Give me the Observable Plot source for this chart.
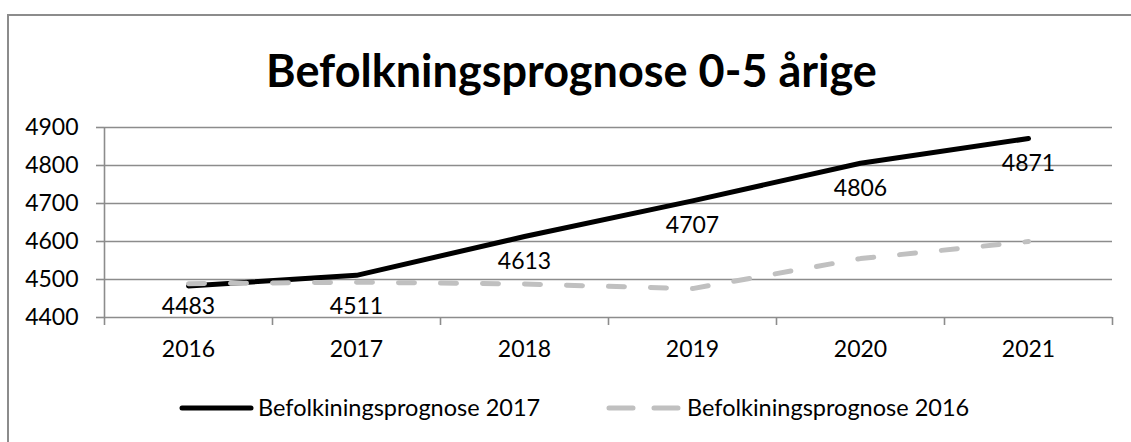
<!DOCTYPE html>
<html>
<head>
<meta charset="utf-8">
<script src="https://cdn.jsdelivr.net/npm/d3@7"></script>
<script src="https://cdn.jsdelivr.net/npm/@observablehq/plot@0.6"></script>
<style>
  html, body { margin: 0; padding: 0; background: #fff; }
  body { width: 1131px; height: 442px; position: relative; overflow: hidden; font-family: Lato, "Open Sans", sans-serif; }
  #frame { position: absolute; left: 7px; top: 14px; width: 1130px; height: 440px; border-top: 2px solid #8c8c8c; border-left: 2px solid #8c8c8c; box-sizing: border-box; }
  #title { position: absolute; left: 0; width: 1131px; top: 42px; text-align: center; font-weight: 700; font-size: 45px; line-height: 56px; color: #000; padding-left: 12px; box-sizing: border-box; }
  #chart { position: absolute; left: 0; top: 0; }
  #legend { position: absolute; left: 0; top: 390px; width: 1131px; height: 36px; }
  #legend svg { position: absolute; left: 0; top: 0; }
  .lt { position: absolute; top: 3px; font-size: 23.5px; line-height: 28px; color: #000; white-space: nowrap; }
</style>
</head>
<body>
<div id="frame"></div>
<div id="title"></div>
<div id="chart"></div>
<div id="legend"></div>
<script>
const title = "Befolkningsprognose 0-5 årige";
const years = [2016, 2017, 2018, 2019, 2020, 2021];
const seriesNames = ["Befolkiningsprognose 2017", "Befolkiningsprognose 2016"];
const prognose2017 = [4483, 4511, 4613, 4707, 4806, 4871];
const prognose2016 = [4489, 4493, 4488, 4476, 4555, 4600];
const yTicks = [4400, 4500, 4600, 4700, 4800, 4900];

document.getElementById("title").textContent = title;

const grid = "#8c8c8c";
const font = "Lato, 'Open Sans', sans-serif";
const fs = 23;
const boundaries = [years[0] - 0.5, ...years.map(y => y + 0.5)];
const d17 = years.map((y, i) => ({year: y, value: prognose2017[i]}));
const d16 = years.map((y, i) => ({year: y, value: prognose2016[i]}));

const chart = Plot.plot({
  width: 1131,
  height: 362,
  marginLeft: 104,
  marginRight: 19,
  marginTop: 127,
  marginBottom: 45,
  style: {fontFamily: font, fontSize: fs + "px", color: "#000", background: "transparent"},
  x: {type: "linear", domain: [boundaries[0], boundaries[boundaries.length - 1]]},
  y: {domain: [yTicks[0], yTicks[yTicks.length - 1]]},
  marks: [
    Plot.gridY(yTicks, {stroke: grid, strokeOpacity: 1, strokeWidth: 1.6}),
    Plot.axisY({ticks: yTicks, tickSize: 8, tickPadding: 18, stroke: grid, strokeWidth: 1.6, fill: "#000", fontSize: fs, tickFormat: d => String(d), label: null}),
    Plot.ruleX([boundaries[0]], {stroke: grid, strokeWidth: 1.6}),
    Plot.axisX({ticks: boundaries, tickSize: 8, stroke: grid, strokeWidth: 1.6, tickFormat: () => "", label: null}),
    Plot.axisX({ticks: years, tickSize: 0, tickPadding: 23, tickFormat: d => String(d), fill: "#000", fontSize: fs, label: null}),
    Plot.line(d17, {x: "year", y: "value", stroke: "#000", strokeWidth: 5, strokeLinecap: "round", strokeLinejoin: "round"}),
    Plot.line(d16, {x: "year", y: "value", stroke: "#c0c0c0", strokeWidth: 5, strokeLinecap: "round", strokeLinejoin: "round", strokeDasharray: "16,26"}),
    Plot.text(d17.filter(d => d.value >= 4550), {x: "year", y: "value", text: d => String(d.value), dy: 25, fill: "#000", fontSize: fs}),
    Plot.text(d17.filter(d => d.value < 4550), {x: "year", frameAnchor: "bottom", lineAnchor: "middle", text: d => String(d.value), dy: -11, fill: "#000", fontSize: fs})
  ]
});
document.getElementById("chart").appendChild(chart);

// legend
const leg = document.getElementById("legend");
leg.innerHTML = `<svg width="1131" height="36">
  <line x1="182" y1="18" x2="251" y2="18" stroke="#000" stroke-width="5" stroke-linecap="round"/>
  <line x1="609" y1="18" x2="678" y2="18" stroke="#c0c0c0" stroke-width="5" stroke-linecap="round" stroke-dasharray="24,21"/>
</svg>`;
[[seriesNames[0], 258], [seriesNames[1], 687]].forEach(([t, x]) => {
  const s = document.createElement("span");
  s.className = "lt";
  s.style.left = x + "px";
  s.textContent = t;
  leg.appendChild(s);
});
</script>
</body>
</html>
